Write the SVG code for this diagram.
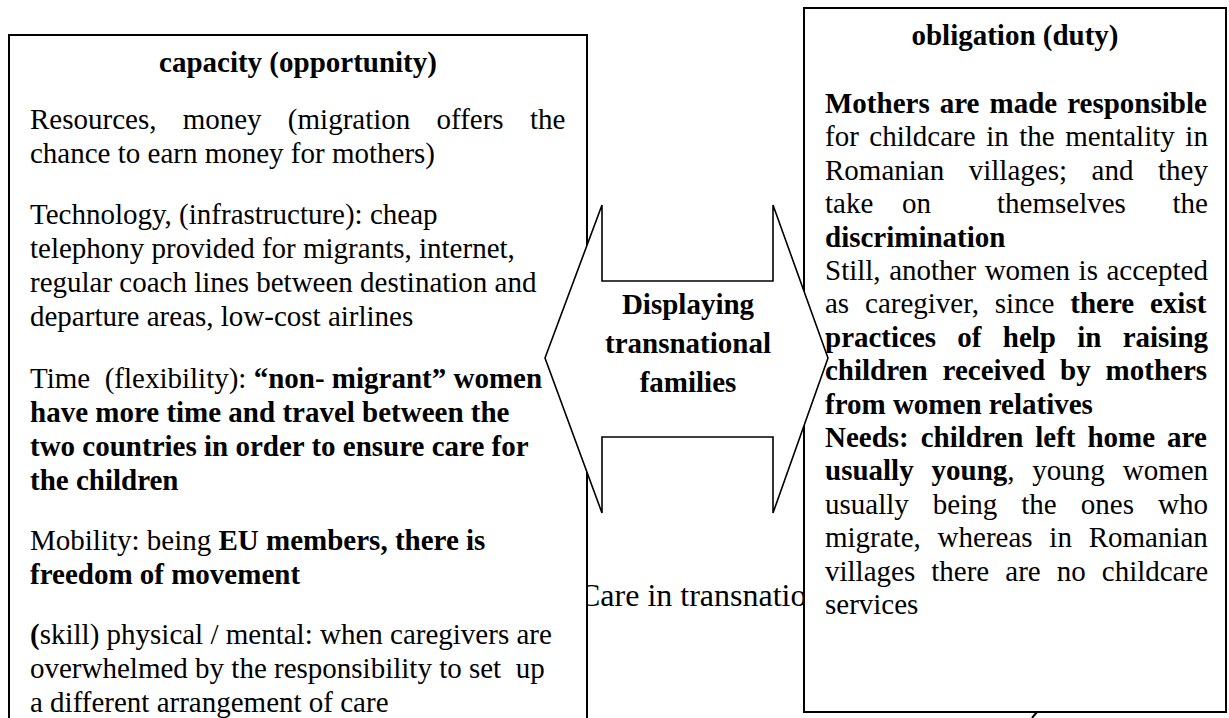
<svg xmlns="http://www.w3.org/2000/svg" width="1229" height="718" viewBox="0 0 1229 718">
<style>
.t{font-family:"Liberation Serif","Times New Roman",serif;font-size:29px;fill:#000}
.b{font-weight:bold}
.box{fill:#fff;stroke:#000;stroke-width:2}
.arrow{fill:#fff;stroke:#000;stroke-width:1.6;stroke-linejoin:miter}
.stub{fill:none;stroke:#000;stroke-width:2}
</style>
<rect width="1229" height="718" fill="#fff"/>
<text id="care-label" class="t" x="579" y="606" style="font-size:32px">Care in transnatio</text>
<g id="node-capacity">
<rect class="box" x="9" y="35" width="578" height="700"/>
<text class="t b" x="298" y="72" text-anchor="middle">capacity (opportunity)</text>
<text class="t" x="30" y="129" style="word-spacing:19px">Resources, money (migration offers the</text>
<text class="t" x="30" y="163">chance to earn money for mothers)</text>
<text class="t" x="30" y="224">Technology, (infrastructure): cheap</text>
<text class="t" x="30" y="258">telephony provided for migrants, internet,</text>
<text class="t" x="30" y="292">regular coach lines between destination and</text>
<text class="t" x="30" y="326">departure areas, low-cost airlines</text>
<text class="t" x="30" y="388" xml:space="preserve">Time  (flexibility): <tspan class="b">“non- migrant” women</tspan></text>
<text class="t b" x="30" y="422">have more time and travel between the</text>
<text class="t b" x="30" y="456">two countries in order to ensure care for</text>
<text class="t b" x="30" y="490">the children</text>
<text class="t" x="30" y="550">Mobility: being <tspan class="b">EU members, there is</tspan></text>
<text class="t b" x="30" y="584">freedom of movement</text>
<text class="t" x="30" y="644"><tspan class="b">(</tspan>skill) physical / mental: when caregivers are</text>
<text class="t" x="30" y="678" xml:space="preserve">overwhelmed by the responsibility to set  up</text>
<text class="t" x="30" y="712">a different arrangement of care</text>
</g>
<g id="node-obligation">
<rect class="box" x="804" y="8" width="422" height="704"/>
<text class="t b" x="1015" y="45" text-anchor="middle">obligation (duty)</text>
<text class="t b" x="825" y="113" style="word-spacing:2.8px">Mothers are made responsible</text>
<text class="t" x="825" y="146.4" style="word-spacing:3.3px">for childcare in the mentality in</text>
<text class="t" x="825" y="179.8" style="word-spacing:17.3px">Romanian villages; and they</text>
<text class="t" y="213.2"><tspan x="825">take</tspan><tspan x="902">on</tspan><tspan x="997">themselves</tspan><tspan x="1208" text-anchor="end">the</tspan></text>
<text class="t b" x="825" y="246.6">discrimination</text>
<text class="t" x="825" y="280" style="word-spacing:1.3px">Still, another women is accepted</text>
<text class="t" x="825" y="313.4" style="word-spacing:8.6px">as caregiver, since <tspan class="b">there exist</tspan></text>
<text class="t b" x="825" y="346.8" style="word-spacing:14px">practices of help in raising</text>
<text class="t b" x="825" y="380.2" style="word-spacing:7.7px">children received by mothers</text>
<text class="t b" x="825" y="413.6">from women relatives</text>
<text class="t b" x="825" y="447" style="word-spacing:4.7px">Needs: children left home are</text>
<text class="t" x="825" y="480.4" style="word-spacing:10.6px"><tspan class="b">usually young</tspan>, young women</text>
<text class="t" x="825" y="513.8" style="word-spacing:16.8px">usually being the ones who</text>
<text class="t" x="825" y="547.2" style="word-spacing:9.5px">migrate, whereas in Romanian</text>
<text class="t" x="825" y="580.6" style="word-spacing:8.8px">villages there are no childcare</text>
<text class="t" x="825" y="614">services</text>
</g>
<g id="node-displaying">
<path class="arrow" d="M545,358 L602,205 L602,281 L773,281 L773,205 L828,358 L773,513 L773,437 L602,437 L602,513 Z"/>
<text class="t b" x="688" y="314" text-anchor="middle">Displaying</text>
<text class="t b" x="688" y="353" text-anchor="middle">transnational</text>
<text class="t b" x="688" y="392" text-anchor="middle">families</text>
</g>
<g id="connectors">
<path class="stub" d="M1037,712 L1032,718"/>
</g>
</svg>
